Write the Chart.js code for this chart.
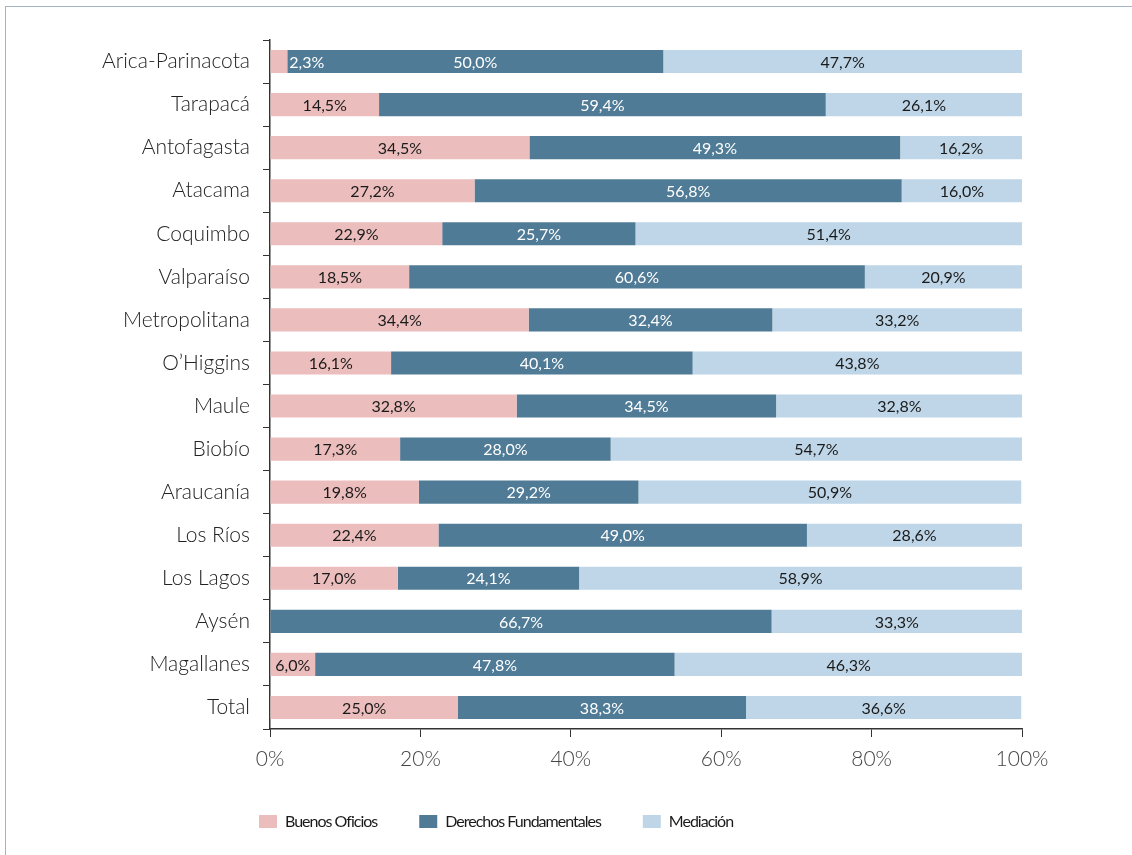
<!DOCTYPE html>
<html>
<head>
<meta charset="utf-8">
<script src="https://cdn.jsdelivr.net/npm/chart.js@4/dist/chart.umd.min.js"></script>
<style>
  html, body { margin:0; padding:0; background:#fff; }
  #wrap { position:relative; width:1132px; height:855px; }
  #frame { position:absolute; left:5px; top:6px; right:0; bottom:0;
           border-left:1px solid #a3b4c5; border-top:1px solid #a3b4c5; }
  canvas { position:absolute; left:0; top:0; }
</style>
</head>
<body>
<div id="wrap">
  <div id="frame"></div>
  <canvas id="chart" width="1132" height="855"></canvas>
</div>
<script>

const regions = [
    "Arica-Parinacota", "Tarapacá", "Antofagasta", "Atacama", "Coquimbo",
    "Valparaíso", "Metropolitana", "O’Higgins", "Maule", "Biobío",
    "Araucanía", "Los Ríos", "Los Lagos", "Aysén", "Magallanes", "Total"
];

const buenosOficios = [2.3, 14.5, 34.5, 27.2, 22.9, 18.5, 34.4, 16.1, 32.8, 17.3, 19.8, 22.4, 17.0, 0, 6.0, 25.0];
const derechosFund  = [50.0, 59.4, 49.3, 56.8, 25.7, 60.6, 32.4, 40.1, 34.5, 28.0, 29.2, 49.0, 24.1, 66.7, 47.8, 38.3];
const mediacion     = [47.7, 26.1, 16.2, 16.0, 51.4, 20.9, 33.2, 43.8, 32.8, 54.7, 50.9, 28.6, 58.9, 33.3, 46.3, 36.6];

const seriesNames = ["Buenos Oficios", "Derechos Fundamentales", "Mediación"];
const xTicks = [0, 20, 40, 60, 80, 100];

const colors = ["#ebbdbc", "#507b96", "#bed6e7"];
const labelColors = ["#1a1a1a", "#ffffff", "#1a1a1a"];

const FONT = "Lato, 'Open Sans', sans-serif";

function fmt(v){
    return v.toFixed(1).replace(".", ",") + "%";
}

// values written inside each bar segment
const barLabels = {
    id:"barLabels",
    afterDatasetsDraw(chart){
        const ctx = chart.ctx;
        ctx.save();
        ctx.font = "16px " + FONT;
        ctx.textBaseline = "middle";
        chart.data.datasets.forEach((ds, di)=>{
            const meta = chart.getDatasetMeta(di);
            meta.data.forEach((bar, i)=>{
                const v = ds.data[i];
                if(!v) return;
                const txt = fmt(v);
                const w = ctx.measureText(txt).width;
                const segW = Math.abs(bar.x - bar.base);
                if(segW < w + 2){
                    // too narrow: put it just past the end, over next segment
                    ctx.textAlign = "left";
                    ctx.fillStyle = labelColors[Math.min(di+1, 2)];
                    ctx.fillText(txt, bar.x + 2, bar.y + 1);
                }
                else{
                    ctx.textAlign = "center";
                    ctx.fillStyle = labelColors[di];
                    ctx.fillText(txt, (bar.x + bar.base)/2, bar.y + 1);
                }
            });
        });
        ctx.restore();
    }
};

// legend drawn by hand so it sits where the original has it
const bottomLegend = {
    id:"bottomLegend",
    afterDraw(chart){
        const ctx = chart.ctx;
        ctx.save();
        ctx.font = "16px " + FONT;
        ctx.letterSpacing = "-1px";
        ctx.textBaseline = "middle";
        ctx.textAlign = "left";
        let x = 259;
        const y = 822;
        seriesNames.forEach((name, i)=>{
            ctx.fillStyle = colors[i];
            ctx.fillRect(x, y - 7, 18, 13);
            ctx.fillStyle = "#1a1a1a";
            ctx.fillText(name, x + 26, y);
            x += 26 + ctx.measureText(name).width + 42;
        });
        ctx.restore();
    }
};

new Chart(
    document.getElementById("chart"),
    {
        type:"bar",
        data:{
            labels:regions,
            datasets:[
                { label:seriesNames[0], data:buenosOficios, backgroundColor:colors[0] },
                { label:seriesNames[1], data:derechosFund,  backgroundColor:colors[1] },
                { label:seriesNames[2], data:mediacion,     backgroundColor:colors[2] }
            ]
        },
        options:{
            indexAxis:"y",
            responsive:false,
            animation:false,
            layout:{ padding:{ left:0, top:40, right:110, bottom:76 } },
            datasets:{ bar:{ barPercentage:0.67, categoryPercentage:0.8 } },
            plugins:{
                legend:{ display:false },
                tooltip:{ enabled:false }
            },
            scales:{
                x:{
                    stacked:true,
                    min:0,
                    max:100,
                    afterBuildTicks(scale){
                        scale.ticks = xTicks.map(v => ({ value:v }));
                    },
                    afterFit(scale){ scale.height = 50; },
                    grid:{ drawOnChartArea:false, tickLength:8, color:"#333" },
                    border:{ color:"#333", width:1.5 },
                    ticks:{
                        color:"#444",
                        padding:10,
                        font:{ family:FONT, size:21, weight:"300" },
                        callback:v => v + "%"
                    }
                },
                y:{
                    stacked:true,
                    afterFit(scale){ scale.width = 270; },
                    grid:{ offset:true, drawOnChartArea:false, tickLength:7, color:"#333" },
                    border:{ color:"#333", width:1.5 },
                    ticks:{
                        color:"#222",
                        padding:13,
                        font:{ family:FONT, size:21, weight:"300" }
                    }
                }
            }
        },
        plugins:[barLabels, bottomLegend]
    }
);

</script>
</body>
</html>
